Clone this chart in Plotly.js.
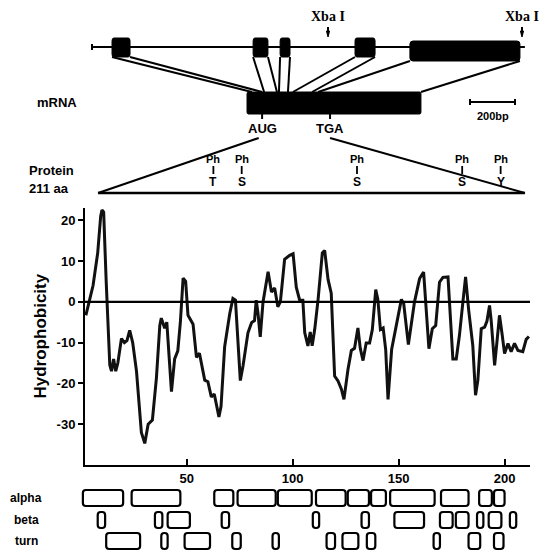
<!DOCTYPE html>
<html><head><meta charset="utf-8">
<script src="https://cdn.plot.ly/plotly-3.0.1.min.js"></script>
<style>html,body{margin:0;padding:0;background:#fff}#chart{width:548px;height:552px}</style>
</head><body><div id="chart"></div>
<script>
// ---------------- data ----------------
const residue = [2.4,3.5,5.8,8,9.4,10,10.8,12,13.7,14.5,15.5,16.5,17.5,19.2,20.6,21.8,23.1,24.5,26.3,28.6,30.2,31.8,33.8,35.7,37.3,38,39.6,40.6,41.8,42.8,44.3,45.8,47,48.3,49.5,50.6,53,54.6,56,58.5,60,61.6,63,65.2,66.2,67.9,70.3,71.8,73,74.2,75.3,76.6,78.9,80.6,82,82.8,83.6,84.7,86,88.4,90,91.5,93,94.2,96.2,98.6,100.2,101.7,103.3,104.8,105.7,107.2,108.3,109.2,110.4,112,114,115.1,116.7,118.2,119.8,121.4,123,124.2,126.1,127.7,129.2,130.8,131.9,133.2,134.7,136.3,137.6,139.2,140.2,141.4,142.7,143.9,145,146.7,148.9,151.3,152.4,154.6,157.5,159.9,161.8,163,164.3,165.9,167.5,169.3,170.9,173.3,174.8,175.6,177.2,178.7,180.3,181.6,183.1,185,186.3,187.4,189,190.6,191.7,192.9,193.7,195.3,196.4,197.6,198.9,200,201.6,203.1,204.7,206.3,208.6,210.2,211.5];
const hydrophobicity = [-3.3,-1,4,12,21,22.5,22,5,-15.5,-17,-14,-17,-15,-9,-10,-9.5,-7,-10,-17,-32,-34.7,-30,-29,-18.7,-5.8,-4,-6.5,-5,-15,-22,-14,-12,-5,5.8,5,-3.3,-5.5,-13.6,-12.6,-19.2,-19.6,-23.3,-22.6,-28.2,-25.6,-11,-2.9,0.8,0.4,-8.6,-19.3,-15.6,-7.6,-5.1,-4.6,0.4,-2.6,-8.6,-0.1,7.4,2.4,3.4,-1.2,0,10.4,11.4,11.8,3.6,0.4,0.4,-7.6,-10.8,-7.4,-10.8,-6.8,0.6,12,12.6,5.5,2.1,-18.2,-19.4,-21.4,-23.9,-16.6,-11.9,-11.4,-6.4,-11.4,-14.4,-10.1,-10.1,-6.8,3,0.6,-6.8,-6.4,-11.7,-23.9,-11.7,-6,0.6,-0.4,-10.5,0,5.7,7.3,-2.2,-11.5,-6.6,-5.8,4.8,6,6.1,-6.6,-14,-14,-8.2,-0.2,6.1,-2.2,-10.7,-22.9,-19.2,-6.6,-6.2,-4.7,-0.9,-4.7,-15.6,-9.9,-3.3,-8.2,-12.7,-10.2,-12.2,-10.2,-11.9,-12.2,-9.2,-8.5];
const xTickVals = [50,100,150,200];
const yTickVals = [-30,-20,-10,0,10,20];

// secondary structure predictions (residue start / end)
const alphaStart = [1,24,63,74,93,111,126,137,146,170,188,195];
const alphaEnd   = [20,47,72,92,109,125,136,144,167,183,194,200];
const betaStart  = [8,35,41,66.5,109.5,132.5,148,169.5,177,187,192.5,202.5];
const betaEnd    = [11.5,38.5,51.5,70,112.5,136,162,175.5,183,190,198.5,205.5];
const turnStart  = [12,38,49,71.5,90.5,116,123.5,135,166.5,183,195];
const turnEnd    = [28,41,61,75.5,93.5,120,131,139,169.5,188.5,199.5];
const structRows = ['alpha','beta','turn'];

// gene map (bp)
const exonStart = [89,716,836,1169,1413];
const exonEnd   = [169,782,880,1258,1902];
const geneLength = 1924;
const xbaSites = [1049,1911];
// exon junctions on the mRNA as drawn (bp along mRNA)
const mrnaExonStart = [22,76,142,204,316];
const mrnaExonEnd   = [67,133,182,289,773];
const mrnaLength = 773;
const augPos = 67, tgaPos = 369;
const proteinLength = 211;
const phosphoRes = [57,71,128,180,199];
const phosphoAA  = ['T','S','S','S','Y'];
const scaleBarBp = 200;

// ---------------- layout helpers ----------------
const L=20,R=10,T=5,B=0,W=548,H=552;
const PW=W-L-R, PH=H-T-B;
const fx = p => (p-L)/PW;
const fy = p => (H-B-p)/PH;
const mainX0=85, mainX1=530, mainY0=465, mainY1=208;
const xr=[2,212];
const resScale=(mainX1-mainX0)/(xr[1]-xr[0]);
const x3r0 = xr[0]-(mainX0-L)/resScale;
const x3range=[x3r0, x3r0+PW/resScale];
const bpPerPx=200/45, bpOriginPx=92;
const x2range=[(L-bpOriginPx)*bpPerPx,(W-R-bpOriginPx)*bpPerPx];
const mrnaStartBp=689;
const protStartBp=27, protEndBp=1924;

const K='#000';
const FONT='Liberation Sans, Arial, sans-serif';
const shapes=[], ann=[];
const ln=(x0,y0,x1,y1,w,xref,yref)=>shapes.push({type:'line',xref:xref||'x2',yref:yref||'y2',x0,y0,x1,y1,line:{color:K,width:w||2}});
const txt=(x,y,t,size,opt)=>ann.push(Object.assign({xref:'x2',yref:'y2',x,y,text:t,showarrow:false,font:{family:FONT,size:size||12,color:K,weight:'bold'}},opt||{}));
// rounded rectangle path in data units
const rrect=(x0,x1,y0,y1,rx,ry)=>{
  rx=Math.min(rx,(x1-x0)/2); ry=Math.min(ry,Math.abs(y1-y0)/2);
  return `M${x0+rx},${y0} L${x1-rx},${y0} Q${x1},${y0} ${x1},${y0+ry} L${x1},${y1-ry} Q${x1},${y1} ${x1-rx},${y1} L${x0+rx},${y1} Q${x0},${y1} ${x0},${y1-ry} L${x0},${y0+ry} Q${x0},${y0} ${x0+rx},${y0} Z`;
};

// zero line in hydrophobicity plot
ln(xr[0],0,xr[1],0,2.2,'x','y');

// genomic line
ln(0,47,geneLength,47,2.2);
ln(0,44,0,50,2);
// exons
exonStart.forEach((s,i)=>{
  const big = i===exonStart.length-1;
  shapes.push({type:'path',xref:'x2',yref:'y2',path:rrect(s,exonEnd[i],big?41:38,big?61:57,big?14:8,3),fillcolor:K,line:{color:K,width:1}});
});
// XbaI
xbaSites.forEach(s=>{
  ln(s,27,s,35,2);
  shapes.push({type:'path',xref:'x2',yref:'y2',path:`M${s-7},31 L${s+7},31 L${s},37 Z`,fillcolor:K,line:{color:K,width:1}});
  txt(s,16,'Xba I',14,{font:{family:'Liberation Serif, Times New Roman, serif',size:14,color:K,weight:'bold'}});
});
// mRNA
shapes.push({type:'path',xref:'x2',yref:'y2',path:rrect(mrnaStartBp,mrnaStartBp+mrnaLength,92,114,6,2),fillcolor:K,line:{color:K,width:1}});
exonStart.forEach((s,i)=>{
  const yb = i===exonStart.length-1?61:57;
  ln(s,yb,mrnaStartBp+mrnaExonStart[i],92,2);
  ln(exonEnd[i],yb,mrnaStartBp+mrnaExonEnd[i],92,2);
});
txt(-155,102,'mRNA',13);
// scale bar
const sb0=1680;
ln(sb0,102,sb0+scaleBarBp,102,2); ln(sb0,99,sb0,105,2); ln(sb0+scaleBarBp,99,sb0+scaleBarBp,105,2);
txt(sb0+scaleBarBp/2,116,'200bp',11);
// AUG / TGA
const augX=mrnaStartBp+augPos, tgaX=mrnaStartBp+tgaPos;
ln(augX,114,augX,119,2); ln(tgaX,114,tgaX,119,2);
txt(augX,128,'AUG',13); txt(tgaX,128,'TGA',13);
// protein
ln(protStartBp,193,protEndBp,193,2.4);
ln(augX-15,138,protStartBp,193,2);
ln(tgaX,138,protEndBp,193,2);
txt(-180,170,'Protein',13); txt(-192,188,'211 aa',13);
const resToBp = r => protStartBp + r/proteinLength*(protEndBp-protStartBp);
phosphoRes.forEach((r,i)=>{
  const x=resToBp(r);
  txt(x,159,'Ph',11);
  ln(x,166,x,174,1.8);
  txt(x,182,phosphoAA[i],12);
});

// secondary structure boxes
const rowTop=[490,512,533], rowBot=[506,528,549];
[[alphaStart,alphaEnd],[betaStart,betaEnd],[turnStart,turnEnd]].forEach((pair,ri)=>{
  pair[0].forEach((s,i)=>shapes.push({type:'path',xref:'x3',yref:'y3',path:rrect(s,pair[1][i],rowTop[ri],rowBot[ri],1.4,3),line:{color:K,width:2.2},fillcolor:'rgba(0,0,0,0)'}));
  ann.push({xref:'paper',yref:'y3',x:fx(26),y:(rowTop[ri]+rowBot[ri])/2,text:structRows[ri],showarrow:false,xanchor:'center',font:{family:FONT,size:12,color:K,weight:'bold'}});
});

// y axis title
ann.push({xref:'paper',yref:'paper',x:fx(28),y:fy(336),text:'Hydrophobicity',textangle:-90,showarrow:false,font:{family:FONT,size:17,color:K,weight:'bold'}});

const tf={family:FONT,size:13,color:K,weight:'bold'};
const traces=[
  {x:residue,y:hydrophobicity,type:'scatter',mode:'lines',line:{color:'#111',width:3},hoverinfo:'skip',xaxis:'x',yaxis:'y'},
  {x:[0],y:[100],type:'scatter',mode:'markers',marker:{opacity:0},hoverinfo:'skip',xaxis:'x2',yaxis:'y2'},
  {x:[0],y:[500],type:'scatter',mode:'markers',marker:{opacity:0},hoverinfo:'skip',xaxis:'x3',yaxis:'y3'}
];
const layout={
  width:W,height:H,margin:{l:L,r:R,t:T,b:B},paper_bgcolor:'#fff',plot_bgcolor:'rgba(0,0,0,0)',showlegend:false,
  xaxis:{domain:[fx(mainX0),fx(mainX1)],range:xr,showline:true,linewidth:2,linecolor:K,ticks:'inside',ticklen:6,tickwidth:2,tickcolor:K,tickvals:xTickVals,ticktext:xTickVals.map(String),tickfont:tf,showgrid:false,zeroline:false,anchor:'y'},
  yaxis:{domain:[fy(mainY0),fy(mainY1)],range:[-40,23],showline:true,linewidth:2,linecolor:K,ticks:'outside',ticklen:5,tickwidth:2,tickcolor:K,tickvals:yTickVals,ticktext:yTickVals.map(String),tickfont:tf,showgrid:false,zeroline:false,anchor:'x'},
  xaxis2:{domain:[0,1],range:x2range,visible:false,anchor:'y2'},
  yaxis2:{domain:[fy(200),1],range:[200,T],visible:false,anchor:'x2'},
  xaxis3:{domain:[0,1],range:x3range,visible:false,anchor:'y3'},
  yaxis3:{domain:[0,fy(482)],range:[H,482],visible:false,anchor:'x3'},
  shapes,annotations:ann
};
Plotly.newPlot('chart',traces,layout,{staticPlot:true,displayModeBar:false});
</script></body></html>
